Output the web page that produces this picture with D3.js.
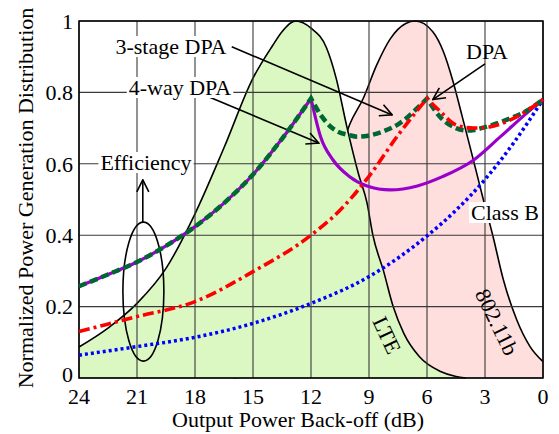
<!DOCTYPE html>
<html lang="en">
<head>
<meta charset="UTF-8">
<title>Normalized Power Generation Distribution</title>
<style>
  body { margin: 0; background: #fff; }
  text { font-family: 'Liberation Serif', 'Times New Roman', serif; font-size: 22px; fill: #000; }
</style>
</head>
<body>
<svg id="chart" width="559" height="434"></svg>
<script src="https://cdn.jsdelivr.net/npm/d3@7"></script>
<script>
// ticks
var xTicks = [24, 21, 18, 15, 12, 9, 6, 3, 0];
var yTicks = [0, 0.2, 0.4, 0.6, 0.8, 1];
var yTickLabels = ['0', '0.2', '0.4', '0.6', '0.8', '1'];

// signal distributions, [back-off dB, value]
var lte = [[24, .087], [22.5, .14], [21, .209], [19.5, .307], [18, .46], [16.5, .645], [15, .84], [14, .93],
           [13.5, .97], [12.8, 1.0], [12, .98], [11.2, .925], [10.7, .84], [10.15, .705], [9.55, .573],
           [9.1, .49], [8.8, .40], [8.25, .30], [7.75, .20], [7.2, .125], [6.4, .06], [5.3, .018], [4.5, .004], [4, 0]];
var wlan = [[16, 0], [14.5, .02], [13, .12], [12, .3], [11, .52], [10, .71], [9.3, .783], [8.6, .877], [7.9, .95],
            [7.1, .993], [6.6, 1.0], [5.7, .97], [5.15, .914], [4.65, .83], [4.2, .737], [3.8, .653], [3.45, .578],
            [3.1, .503], [2.6, .40], [2.05, .275], [1.36, .163], [0.67, .088], [0, .046]];

// efficiency curves, [back-off dB, efficiency]
var classB = [[24, .064], [21, .088], [18, .114], [15, .153], [12, .209], [9, .284], [6, .398], [4.5, .47],
              [3, .556], [1.5, .66], [0, .78]];
var dpa = [[24, .13], [21, .172], [18, .214], [15, .298], [12, .40], [10.5, .47], [9, .565], [7.5, .68], [6, .783],
           [5.3, .746], [4.5, .709], [3.6, .70], [2.7, .704], [1.5, .728], [0, .78]];
var stage3 = [[24, .257], [22.5, .29], [21, .325], [19.5, .37], [18, .424], [16.5, .49], [15, .57], [13.5, .67], [12, .783],
              [11.5, .737], [10.9, .70], [10, .68], [9.6, .676], [8.3, .69], [7.4, .714], [6.5, .756], [6, .783],
              [5.3, .73], [4.5, .70], [3.9, .693], [2.9, .704], [1.9, .723], [0.8, .75], [0, .78]];
var way4 = [[24, .257], [22.5, .29], [21, .325], [19.5, .37], [18, .424], [16.5, .49], [15, .57], [13.5, .67], [12, .783],
            [11.5, .675], [10.85, .61], [10, .564], [9.1, .538], [7.9, .527], [6.5, .538], [5.2, .564], [3.6, .61],
            [2.2, .676], [0.84, .742], [0, .78]];
// back-off points where a curve has a sharp corner
var dpaCusps = [6];
var stage3Cusps = [12, 6];
var way4Cusps = [12];

var svg = d3.select('#chart');
var x = d3.scaleLinear().domain([24, 0]).range([79, 543]);
var y = d3.scaleLinear().domain([0, 1]).range([378, 21]);

var line = d3.line().x(d => x(d[0])).y(d => y(d[1])).curve(d3.curveMonotoneX);
var area = d3.area().x(d => x(d[0])).y0(y(0)).y1(d => y(d[1])).curve(d3.curveMonotoneX);

// smooth pieces joined at the cusps
function cuspPath(data, cusps) {
    var segs = [[]];
    data.forEach(function (d) {
        segs[segs.length - 1].push(d);
        if (cusps.indexOf(d[0]) >= 0) segs.push([d]);
    });
    return segs.filter(s => s.length > 1)
        .map((s, i) => i ? line(s).replace(/^M/, 'L') : line(s))
        .join('');
}

svg.append('defs').append('marker')
    .attr('id', 'arr').attr('markerUnits', 'userSpaceOnUse')
    .attr('viewBox', '0 0 14 14').attr('refX', 13).attr('refY', 7)
    .attr('markerWidth', 14).attr('markerHeight', 14).attr('orient', 'auto')
  .append('path').attr('d', 'M1,1 L13,7 L1,13')
    .attr('fill', 'none').attr('stroke', '#000').attr('stroke-width', 1.6);

// distributions
svg.append('path').attr('d', area(wlan)).attr('fill', 'rgb(255,222,222)');
svg.append('path').attr('d', line(wlan)).attr('fill', 'none').attr('stroke', '#000').attr('stroke-width', 1.6);
svg.append('path').attr('d', area(lte)).attr('fill', 'rgb(220,248,194)');
svg.append('path').attr('d', line(lte)).attr('fill', 'none').attr('stroke', '#000').attr('stroke-width', 1.6);

// grid
var grid = svg.append('g').attr('stroke', '#3a3a3a').attr('stroke-width', 1.1);
grid.selectAll('.v').data(xTicks).join('line')
    .attr('x1', d => x(d)).attr('x2', d => x(d)).attr('y1', y(0)).attr('y2', y(1));
grid.selectAll('.h').data(yTicks).join('line')
    .attr('y1', d => y(d)).attr('y2', d => y(d)).attr('x1', x(24)).attr('x2', x(0));
svg.append('rect').attr('x', x(24)).attr('y', y(1)).attr('width', x(0) - x(24)).attr('height', y(0) - y(1))
    .attr('fill', 'none').attr('stroke', '#000').attr('stroke-width', 1.5);

// tick labels
svg.selectAll('.xt').data(xTicks).join('text')
    .attr('x', d => x(d)).attr('y', 404).attr('text-anchor', 'middle').text(d => d);
svg.selectAll('.yt').data(yTicks).join('text')
    .attr('x', 73).attr('y', d => d === 0 ? y(d) - 4 : y(d)).attr('dy', '0.35em').attr('text-anchor', 'end')
    .text((d, i) => yTickLabels[i]);

svg.append('text').attr('x', 298).attr('y', 427).attr('text-anchor', 'middle').text('Output Power Back-off (dB)');
svg.append('text').attr('transform', 'translate(33,198) rotate(-90)').attr('text-anchor', 'middle')
    .text('Normalized Power Generation Distribution');

// labels with a white box behind them
function boxLabel(tx, ty, str) {
    var g = svg.append('g');
    var r = g.append('rect').attr('fill', '#fff');
    var t = g.append('text').attr('x', tx).attr('y', ty).attr('text-anchor', 'middle').text(str);
    var b = t.node().getBBox();
    r.attr('x', b.x - 2).attr('y', b.y + 2).attr('width', b.width + 4).attr('height', b.height - 4);
}

// annotation lines
function arrow(x1, y1, x2, y2) {
    svg.append('line').attr('x1', x(x1)).attr('y1', y(y1)).attr('x2', x(x2)).attr('y2', y(y2))
        .attr('stroke', '#000').attr('stroke-width', 1.6).attr('marker-end', 'url(#arr)');
}
arrow(16.1, .928, 7.8, .737);
arrow(17.3, .788, 11.6, .658);
arrow(3.0, .88, 5.7, .78);
arrow(20.7, .437, 20.7, .555);
svg.append('ellipse').attr('cx', x(20.67)).attr('cy', y(.242)).attr('rx', 20.5).attr('ry', 69.5)
    .attr('fill', 'none').attr('stroke', '#000').attr('stroke-width', 1.6);

boxLabel(171, 54, '3-stage DPA');
boxLabel(180, 95, '4-way DPA');
boxLabel(146, 170, 'Efficiency');
boxLabel(505, 220, 'Class B');
svg.append('text').attr('x', 487).attr('y', 59).attr('text-anchor', 'middle').text('DPA');
svg.append('text').attr('transform', 'translate(387,335) rotate(65)').attr('text-anchor', 'middle')
    .attr('dy', '0.35em').text('LTE');
svg.append('text').attr('transform', 'translate(497,322) rotate(64)').attr('text-anchor', 'middle')
    .attr('dy', '0.35em').text('802.11b');

// efficiency curves
svg.append('path').attr('d', line(classB)).attr('fill', 'none')
    .attr('stroke', '#0000ff').attr('stroke-width', 3.5).attr('stroke-dasharray', '3,3');
svg.append('path').attr('d', cuspPath(way4, way4Cusps)).attr('fill', 'none')
    .attr('stroke', '#9900cc').attr('stroke-width', 3.2);
svg.append('path').attr('d', cuspPath(stage3, stage3Cusps)).attr('fill', 'none')
    .attr('stroke', '#006633').attr('stroke-width', 4.5).attr('stroke-dasharray', '8,4');
svg.append('path').attr('d', cuspPath(dpa, dpaCusps)).attr('fill', 'none')
    .attr('stroke', '#ff0000').attr('stroke-width', 3.6).attr('stroke-dasharray', '11,4,3,4');
</script>
</body>
</html>
